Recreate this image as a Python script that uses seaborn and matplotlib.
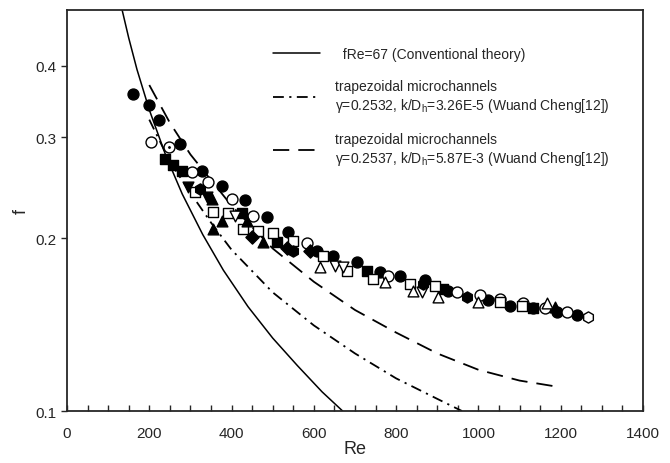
import numpy as np
import pandas as pd
import seaborn as sns
import matplotlib.pyplot as plt
from matplotlib.lines import Line2D
from matplotlib.ticker import FixedLocator, MultipleLocator, NullLocator, NullFormatter

# --- curves ---
re_theory = [134, 150, 170, 200, 240, 280, 330, 380, 440, 500, 560, 620, 670]
f_theory = [0.500, 0.447, 0.394, 0.335, 0.279, 0.239, 0.203, 0.176, 0.152, 0.134, 0.120, 0.108, 0.100]

re_dashdot = [200, 250, 300, 350, 400, 500, 600, 700, 800, 900, 960]
f_dashdot = [0.322, 0.272, 0.240, 0.213, 0.191, 0.161, 0.141, 0.126, 0.114, 0.105, 0.100]

re_dashed = [200, 250, 300, 400, 500, 600, 700, 800, 900, 1000, 1100, 1200]
f_dashed = [0.370, 0.318, 0.280, 0.228, 0.192, 0.168, 0.150, 0.137, 0.126, 0.118, 0.113, 0.110]

# --- experimental points, by marker type ---
re_fcircle = [160, 199, 224, 275, 328, 377, 433, 486, 537, 608, 647, 705, 761, 809, 870, 926, 1023, 1077, 1133, 1191, 1240]
f_fcircle = [0.357, 0.341, 0.321, 0.292, 0.262, 0.247, 0.233, 0.218, 0.205, 0.190, 0.186, 0.182, 0.175, 0.172, 0.169, 0.162, 0.156, 0.1525, 0.151, 0.149, 0.147]

re_ocircle = [204, 304, 343, 401, 452, 583, 780, 948, 1004, 1052, 1108, 1162, 1215]
f_ocircle = [0.294, 0.261, 0.251, 0.234, 0.219, 0.196, 0.172, 0.161, 0.159, 0.157, 0.154, 0.151, 0.149]

re_dotcircle = [248]
f_dotcircle = [0.289]

re_fsquare = [238, 258, 280, 425, 510, 729, 914, 1133]
f_fsquare = [0.275, 0.268, 0.262, 0.221, 0.197, 0.1755, 0.163, 0.151]

re_osquare = [311, 355, 391, 428, 464, 501, 549, 622, 681, 744, 834, 895, 1052, 1106]
f_osquare = [0.241, 0.2225, 0.221, 0.208, 0.206, 0.204, 0.198, 0.186, 0.1755, 0.170, 0.1666, 0.165, 0.155, 0.1525]

re_ftri = [352, 355, 377, 438, 476, 1186]
f_ftri = [0.234, 0.208, 0.214, 0.214, 0.197, 0.152]

re_otri = [615, 773, 841, 902, 999, 1167]
f_otri = [0.178, 0.168, 0.162, 0.158, 0.155, 0.154]

re_otri_down = [408, 651, 671, 863]
f_otri_down = [0.219, 0.179, 0.178, 0.161]

re_ftri_down = [294, 340]
f_ftri_down = [0.246, 0.236]

re_fdiamond = [450, 535, 590]
f_fdiamond = [0.201, 0.192, 0.190]

re_fhex = [323, 549, 865, 972]
f_fhex = [0.244, 0.190, 0.1666, 0.158]

re_ohex = [1266]
f_ohex = [0.146]

sns.set_style('ticks')
plt.rcParams['font.family'] = ['Liberation Sans', 'DejaVu Sans']
plt.rcParams['mathtext.fontset'] = 'custom'
plt.rcParams['mathtext.rm'] = 'Liberation Sans'
plt.rcParams['mathtext.it'] = 'Liberation Sans'

fig = plt.figure(figsize=(6.7, 4.64), dpi=100)
ax = fig.add_axes([0.1, 0.112, 0.8597, 0.8643])

sns.lineplot(x=re_theory, y=f_theory, sort=False, color='black', lw=1.1, ax=ax)
sns.lineplot(x=re_dashdot, y=f_dashdot, sort=False, color='black', lw=1.3, ax=ax).lines[-1].set_dashes((6, 3, 1.2, 3))
sns.lineplot(x=re_dashed, y=f_dashed, sort=False, color='black', lw=1.3, ax=ax).lines[-1].set_dashes((9, 5))

pts = [
    (re_fcircle, f_fcircle, 'o', 'black', 62),
    (re_ocircle, f_ocircle, 'o', 'white', 62),
    (re_dotcircle, f_dotcircle, 'o', 'white', 62),
    (re_fsquare, f_fsquare, 's', 'black', 55),
    (re_osquare, f_osquare, 's', 'white', 55),
    (re_ftri, f_ftri, '^', 'black', 60),
    (re_otri, f_otri, '^', 'white', 60),
    (re_otri_down, f_otri_down, 'v', 'white', 60),
    (re_ftri_down, f_ftri_down, 'v', 'black', 60),
    (re_fdiamond, f_fdiamond, 'D', 'black', 45),
    (re_fhex, f_fhex, 'h', 'black', 65),
    (re_ohex, f_ohex, 'h', 'white', 65),
]
for xs, ys, mk, fc, s in pts:
    sns.scatterplot(x=xs, y=ys, marker=mk, color=fc, edgecolor='black', linewidth=1.0,
                    s=s, legend=False, ax=ax, zorder=3)
sns.scatterplot(x=re_dotcircle, y=f_dotcircle, marker='o', color='black', s=5,
                legend=False, ax=ax, zorder=4)

ax.set_yscale('log')
ax.set_xlim(0, 1400)
ax.set_ylim(0.1, 0.5)
ax.xaxis.set_major_locator(MultipleLocator(200))
ax.xaxis.set_minor_locator(MultipleLocator(50))
ax.yaxis.set_major_locator(FixedLocator([0.1, 0.2, 0.3, 0.4]))
ax.yaxis.set_minor_locator(NullLocator())
ax.yaxis.set_minor_formatter(NullFormatter())
ax.set_yticklabels(['0.1', '0.2', '0.3', '0.4'])
ax.tick_params(axis='x', which='both', direction='in', length=4, width=1, labelsize=11, pad=11)
ax.tick_params(axis='y', which='major', direction='out', length=4, width=1, labelsize=11)
for sp in ax.spines.values():
    sp.set_linewidth(1.3)

ax.set_xlabel('Re', fontsize=13, labelpad=0)
ax.set_ylabel('f', fontsize=13, labelpad=4)

handles = [
    Line2D([], [], color='black', lw=1.1),
    Line2D([], [], color='black', lw=1.3, dashes=(6, 3, 1.2, 3)),
    Line2D([], [], color='black', lw=1.3, dashes=(9, 5)),
]
labels = [
    '  fRe=67 (Conventional theory)',
    'trapezoidal microchannels\n$\\gamma$=0.2532, k/D$_h$=3.26E-5 (Wuand Cheng[12])',
    'trapezoidal microchannels\n$\\gamma$=0.2537, k/D$_h$=5.87E-3 (Wuand Cheng[12])',
]
leg = ax.legend(handles, labels, loc='upper left', bbox_to_anchor=(0.336, 0.94),
                frameon=False, fontsize=10, handlelength=3.4, handletextpad=1.05,
                labelspacing=1.3)
for t in leg.get_texts():
    t.set_linespacing(1.25)

plt.savefig('out.png', dpi=100)
plt.close()
